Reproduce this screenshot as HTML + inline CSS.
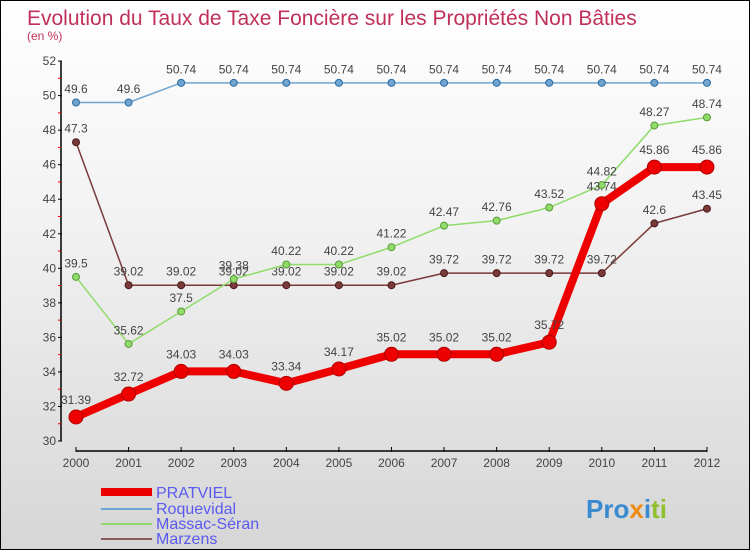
<!DOCTYPE html>
<html><head><meta charset="utf-8"><style>
body{margin:0;}
#wrap{width:748px;height:548px;border:1px solid #000;background:linear-gradient(#ffffff,#f2f2f2 40%,#d6d6d6);position:relative;overflow:hidden;font-family:"Liberation Sans",sans-serif;}
</style></head><body>
<div id="wrap">
<svg id="chart" width="748" height="548" xmlns="http://www.w3.org/2000/svg">
<text x="26" y="24" font-size="21" fill="#c0305a">Evolution du Taux de Taxe Foncière sur les Propriétés Non Bâties</text>
<text x="26" y="39" font-size="12" fill="#c0305a">(en %)</text>
<g id="axes"></g>
<g id="series"></g>
<g id="legend" font-size="16" fill="#5a5af0">
<rect x="100" y="487" width="51" height="8" fill="#ee0000"/>
<text x="155" y="497">PRATVIEL</text>
<rect x="100" y="507" width="51" height="2" fill="#6fa5d0"/>
<text x="155" y="513">Roquevidal</text>
<rect x="100" y="522" width="51" height="2" fill="#8fd86a"/>
<text x="155" y="528">Massac-Séran</text>
<rect x="100" y="537" width="51" height="2" fill="#8a5a5a"/>
<text x="155" y="543">Marzens</text>
</g>
<text x="585" y="517" font-size="26" font-weight="bold"><tspan fill="#3a8ad0">Pro</tspan><tspan fill="#f08a10">x</tspan><tspan fill="#3a8ad0">i</tspan><tspan fill="#90c030">ti</tspan></text>
</svg>
</div>
<script>
const years=[2000,2001,2002,2003,2004,2005,2006,2007,2008,2009,2010,2011,2012];
const yTicks=[30,32,34,36,38,40,42,44,46,48,50,52];
const pratviel=[31.39,32.72,34.03,34.03,33.34,34.17,35.02,35.02,35.02,35.72,43.74,45.86,45.86];
const roquevidal=[49.6,49.6,50.74,50.74,50.74,50.74,50.74,50.74,50.74,50.74,50.74,50.74,50.74];
const massac=[39.5,35.62,37.5,39.38,40.22,40.22,41.22,42.47,42.76,43.52,44.82,48.27,48.74];
const marzens=[47.3,39.02,39.02,39.02,39.02,39.02,39.02,39.72,39.72,39.72,39.72,42.6,43.45];
const NS="http://www.w3.org/2000/svg";
function xs(i){return 75+i*52.58;}
function ys(v){return 440-(v-30)*17.27;}
function mk(t,a,p){const e=document.createElementNS(NS,t);for(const k in a)e.setAttribute(k,a[k]);p.appendChild(e);return e;}
const ax=document.getElementById('axes');
let e=mk('line',{x1:60,y1:ys(52),x2:60,y2:440,stroke:'#000','stroke-width':1.5},ax);


e=mk('line',{x1:75,y1:450,x2:706,y2:450,stroke:'#000','stroke-width':1.5},ax);


yTicks.forEach(v=>{
 mk('line',{x1:57,y1:ys(v),x2:61,y2:ys(v),stroke:'#000'},ax);
 if(v<52) mk('line',{x1:57,y1:ys(v+1),x2:60,y2:ys(v+1),stroke:'#e00'},ax);
 const t=mk('text',{x:55,y:ys(v)+4,'text-anchor':'end','font-size':12,fill:'#444'},ax);
 t.textContent=v;
 
 
});
years.forEach((y,i)=>{
 mk('line',{x1:xs(i),y1:446,x2:xs(i),y2:451,stroke:'#000'},ax);
 const t=mk('text',{x:xs(i),y:466,'text-anchor':'middle','font-size':12,fill:'#444'},ax);
 t.textContent=y;
 
 
});
const sg=document.getElementById('series');
function series(data,color,w,r,name,dark){
 const g=mk('g',{},sg);
 
 
 const pts=data.map((v,i)=>xs(i)+','+ys(v)).join(' ');
 mk('polyline',{points:pts,fill:'none',stroke:color,'stroke-width':w,'stroke-linejoin':'round'},g);
 data.forEach((v,i)=>{
  const c=mk('circle',{cx:xs(i),cy:ys(v),r:r,fill:color,stroke:dark,'stroke-width':1},g);
  
  
  const t=mk('text',{x:xs(i),y:ys(v)-r-6,'text-anchor':'middle','font-size':12,fill:'#444'},g);
  t.textContent=String(v);
  
  
 });
}
series(marzens,'#7a3a3a',1.5,3.5,'marzens','#4a1a1a');
series(massac,'#90dc6a',1.5,3.5,'massac-seran','#5a9a3a');
series(roquevidal,'#6fa5d0',1.5,3.5,'roquevidal','#2a6aa0');
series(pratviel,'#ee0000',8,7,'pratviel','#b00000');
</script>
</body></html>
